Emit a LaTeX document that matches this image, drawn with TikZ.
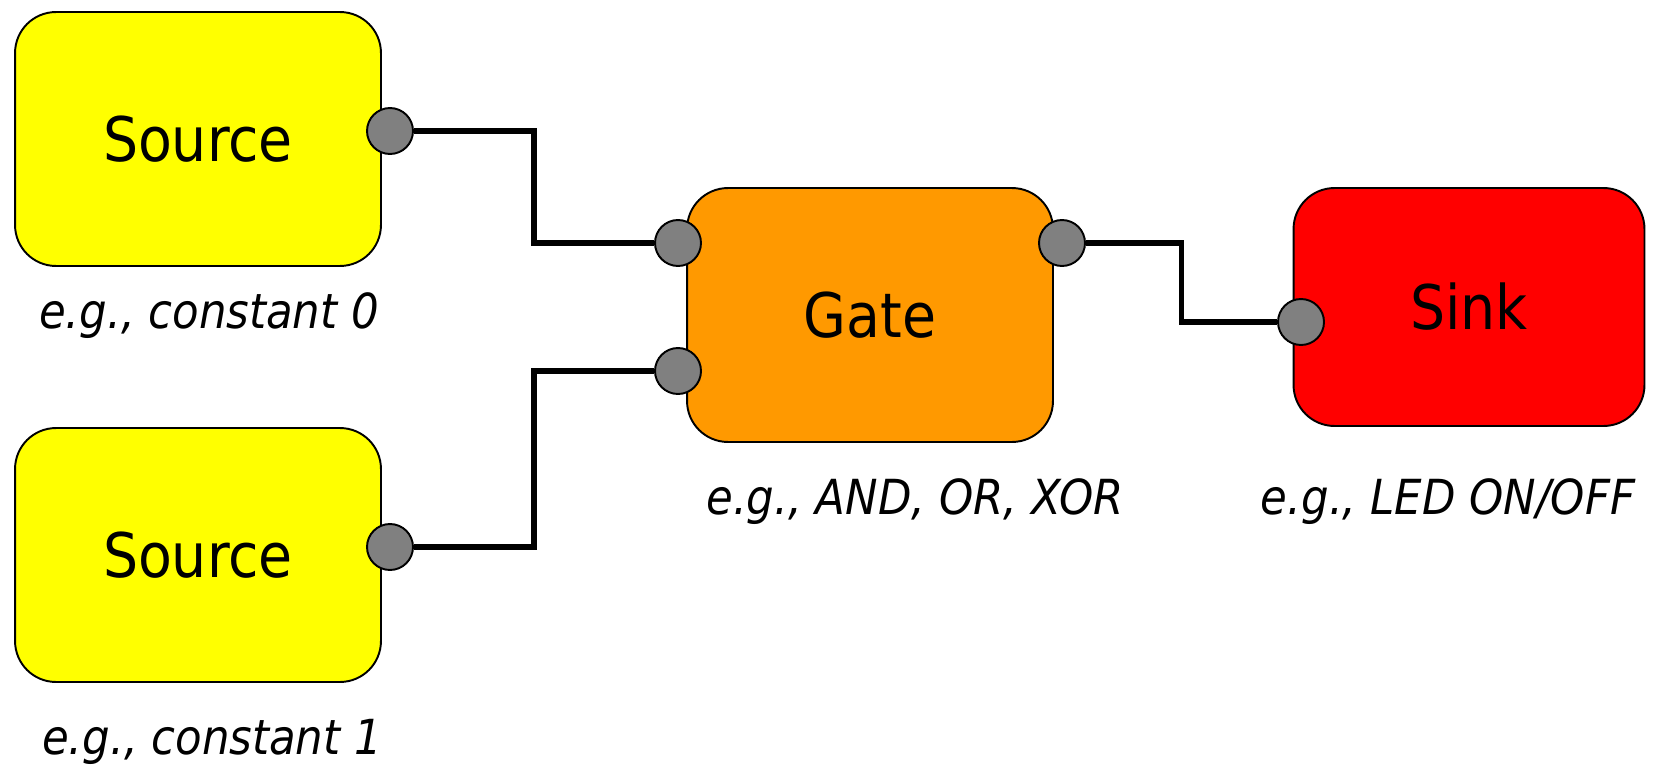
\documentclass[tikz,border=0pt]{standalone}
\usepackage{fontspec}
\setmainfont{DejaVu Sans Condensed}
\usetikzlibrary{calc}
\definecolor{srcyellow}{RGB}{255,255,0}
\definecolor{gateorange}{RGB}{255,153,0}
\definecolor{sinkred}{RGB}{255,0,0}
\definecolor{portgray}{RGB}{128,128,128}
\begin{document}
\begin{tikzpicture}[x=0.02cm, y=-0.02cm,
        box/.style={rectangle, rounded corners=0.82cm, draw, line width=1.1pt, minimum width=7.32cm, minimum height=5.08cm, inner sep=0pt, font=\fontsize{35}{42}\selectfont},
        port/.style={circle, draw, fill=portgray, line width=1.1pt, minimum size=0.92cm, inner sep=0pt},
        wire/.style={line width=3pt},
        note/.style={anchor=base, inner sep=0pt, font=\fontsize{27.5}{33}\selectfont\itshape}]
    \useasboundingbox (0,0) rectangle (1656,764);
    % blocks
    \node[box, fill=srcyellow] (S0) at (198, 139) {Source};
    \node[box, fill=srcyellow] (S1) at (198, 555) {Source};
    \node[box, fill=gateorange] (G) at (870, 315) {Gate};
    \node[box, fill=sinkred, minimum width=7.02cm, minimum height=4.76cm] (K) at (1469, 307) {Sink};
    % ports
    \node[port] (S0out) at (390, 131) {};
    \node[port] (S1out) at (390, 547) {};
    \node[port] (Gin0) at (678, 243) {};
    \node[port] (Gin1) at (678, 371) {};
    \node[port] (Gout) at (1062, 243) {};
    \node[port] (Kin) at (1301, 322) {};
    % wires
    \draw[wire] (S0out) -| ($(S0out)!.5!(Gin0)$) |- (Gin0);
    \draw[wire] (S1out) -| ($(S1out)!.5!(Gin1)$) |- (Gin1);
    \draw[wire] (Gout) -| ($(Gout)!.5!(Kin)$) |- (Kin);
    % notes
    \node[note] (S0note) at (209, 328) {e.g., constant 0};
    \node[note] (S1note) at (212, 754) {e.g., constant 1};
    \node[note] (Gnote) at (915, 514) {e.g., AND, OR, XOR};
    \node[note] (Knote) at (1448, 514) {e.g., LED ON/OFF};
\end{tikzpicture}
\end{document}
